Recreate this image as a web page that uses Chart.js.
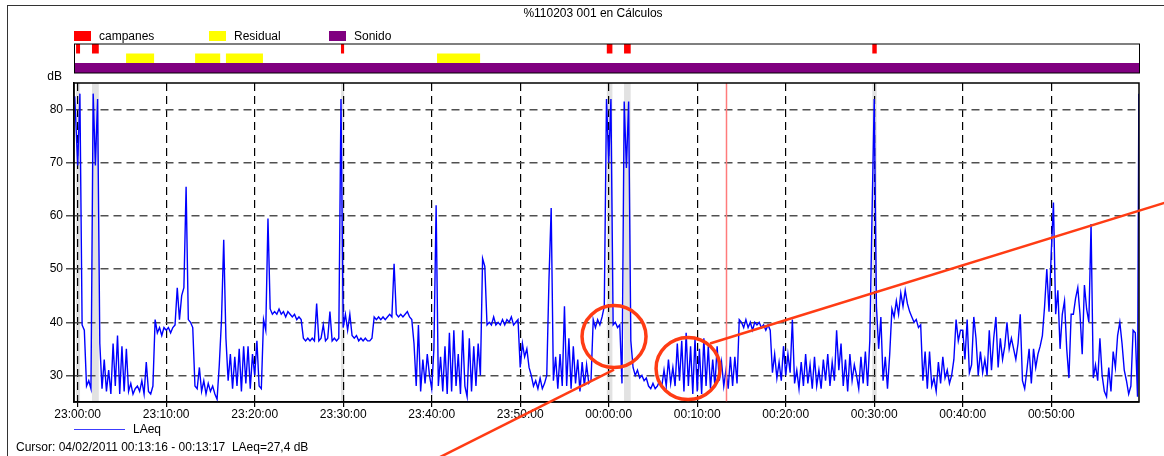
<!DOCTYPE html>
<html>
<head>
<meta charset="utf-8">
<script src="https://cdn.jsdelivr.net/npm/chart.js@4/dist/chart.umd.min.js"></script>
<style>
  html, body { margin: 0; padding: 0; background: #fff; }
  #wrap { width: 1164px; height: 456px; }
</style>
</head>
<body>
<div id="wrap"><canvas id="chart" width="1164" height="456"></canvas></div>
<script>
// datos: LAeq cada 15 s, un bloque por cada 10 minutos (23:00:00 = 0 s)
const stepSec = 15;
const laeq2300 = [69.5, 83, 39.5, 38.5, 28, 29, 27.5, 83, 69.5, 82, 36, 27.5, 33, 27, 31, 26.5, 36, 28, 37.5, 26.5, 35.5, 27, 35, 27, 28.5, 26.5, 27.5, 28, 27, 29, 26.5, 32.5, 27, 26.5, 28, 40.5, 38, 39, 37.5, 39];
const laeq2310 = [38.5, 39, 38, 39, 39.5, 46.5, 40.5, 45, 46.5, 65.5, 40.5, 40, 39, 28, 27.5, 31.5, 27, 29, 26.5, 28.5, 27, 28, 26.5, 25.5, 32, 40.5, 55.5, 37, 29, 34, 27.5, 33.5, 28, 35, 27, 35.5, 28.5, 35.5, 27.5, 34];
const laeq2320 = [30, 36.5, 28, 27.5, 40.5, 38.5, 59.5, 42.5, 41.5, 42, 41.5, 42.5, 41.5, 42, 41, 42, 41.5, 41, 41.5, 40.5, 41, 40.5, 37, 36.5, 37, 36.5, 37, 36.5, 43.5, 36.5, 37, 39.5, 36.5, 37, 42, 36.5, 37, 36.5, 37, 82];
const laeq2330 = [39, 41.5, 38.5, 41.5, 37.5, 37, 37.5, 36.5, 37, 36.5, 37, 36.5, 36.5, 37, 41, 40.5, 41, 40.5, 41, 40.5, 41, 41.5, 41, 51, 41.5, 41, 41.5, 41, 41.5, 42, 41, 40.5, 36, 28, 39.5, 27, 33, 28.5, 34, 30];
const laeq2340 = [27.5, 35, 62, 28, 33.5, 27, 35.5, 26.5, 38, 27, 38.5, 28, 34, 26.5, 38.5, 28, 26, 37, 27, 35.5, 28, 36, 30, 52, 50.5, 39.5, 40, 39.5, 41, 39.5, 40, 39.5, 40.5, 39.5, 40.5, 40, 41, 39.5, 40, 40.5];
const laeq2350 = [31.5, 36, 33.5, 35, 31.5, 30, 28, 29, 27.5, 29.5, 27.5, 28.5, 30, 48, 61.5, 29, 33.5, 27.5, 34, 28, 43, 28, 37, 27.5, 35.5, 28.5, 33, 27, 32.5, 28, 32, 28.5, 29, 40.5, 39, 40.5, 39.5, 41, 43, 82];
const laeq0000 = [70, 82, 39.5, 40, 39, 39.5, 28.5, 81.5, 69, 81.5, 36.5, 31.5, 30, 31, 29.5, 30, 29, 29.5, 28, 27.5, 28.5, 27.5, 28, 29, 28, 31, 28, 33, 28.5, 31.5, 28, 36, 29, 36.5, 27, 38, 28, 35.5, 26.5, 37];
const laeq0010 = [27, 35, 26.5, 37, 28, 35.5, 27.5, 33, 28, 35.5, 29, 32.5, 28, 31, 27.5, 33.5, 28, 33.5, 28.5, 40.5, 40, 39, 40.5, 39, 40, 38.5, 40, 39.5, 40, 39, 39.5, 38.5, 39.5, 38.5, 30.5, 34, 29.5, 32.5, 29, 35.5];
const laeq0020 = [30, 34, 30.5, 40.5, 28.5, 31, 27.5, 32.5, 28, 34, 28.5, 32, 27.5, 33.5, 28, 31, 27.5, 33, 29, 34, 28, 32.5, 29, 38.5, 31, 36, 28, 33, 27, 34, 29, 32, 30, 27.5, 33.5, 28.5, 34.5, 28, 36.5, 60];
const laeq0030 = [82, 43, 35, 41, 29, 33.5, 27.5, 34, 42.5, 41, 44, 41.5, 45.5, 43, 46, 43.5, 42, 41, 40, 40.5, 39, 39.5, 29, 34.5, 27.5, 34.5, 28, 29.5, 27, 32.5, 28.5, 33.5, 29.5, 31, 28.5, 30, 33, 40.5, 36.5, 38.5];
const laeq0040 = [38.5, 33, 40.5, 30.5, 32, 41, 37, 30, 34.5, 30.5, 33, 30, 38.5, 31, 37, 41, 31.5, 37, 33, 35.5, 40, 35, 37, 35, 33, 36, 41.5, 29, 27.5, 31, 35, 28.5, 35, 31.5, 34, 35.5, 37.5, 43, 50, 42];
const laeq0050 = [53, 62.5, 41.5, 46, 35, 41.5, 44, 35, 29.5, 41.5, 41.5, 44.5, 46.5, 41.5, 34, 47, 42.5, 40, 58.5, 29.5, 32, 29, 37, 30, 27, 26, 31.5, 27, 34.5, 31.5, 37.5, 40, 36, 31, 29, 26.5, 28, 38.5, 38, 26];
const laeqBlocks = [laeq2300, laeq2310, laeq2320, laeq2330, laeq2340, laeq2350, laeq0000, laeq0010, laeq0020, laeq0030, laeq0040, laeq0050];
// puntos sueltos al principio y al final del registro
const edgeTimes = [-20, 7194];
const edgeValues = [82.5, 83];

// ejes
const xMin = -25, xMax = 7195;
const xTickSeconds = [0, 600, 1200, 1800, 2400, 3000, 3600, 4200, 4800, 5400, 6000, 6600];
const xTickLabels = ['23:00:00', '23:10:00', '23:20:00', '23:30:00', '23:40:00', '23:50:00',
                     '00:00:00', '00:10:00', '00:20:00', '00:30:00', '00:40:00', '00:50:00'];
const yTicks = [30, 40, 50, 60, 70, 80];

// eventos [inicio, fin] en segundos
const campanes = [[-11, 16], [97, 143], [1785, 1806], [3587, 3625], [3704, 3749], [5387, 5417]];
const residual = [[328, 518], [796, 966], [1005, 1256], [2436, 2728]];
const sonido = [[-25, 7195]];

// cursor
const cursorTime = 4397;
const cursorText = 'Cursor: 04/02/2011 00:13:16 - 00:13:17  LAeq=27,4 dB';

// marcas a mano (círculos y rayas naranjas), en tiempo / dB
const ringTimes = [3636, 4138];
const ringLevels = [37.3, 31.3];
const strokeA = [[2389, 13.7], [3636, 31.1]];
const strokeB = [[4287, 36.0], [7500, 63.6]];

const points = [];
points.push({ x: edgeTimes[0], y: edgeValues[0] });
laeqBlocks.forEach((blk, b) => blk.forEach((v, i) => points.push({ x: b * 600 + i * stepSec, y: v })));
points.push({ x: edgeTimes[1], y: edgeValues[1] });

const FONT = '12px "Liberation Sans", Arial, sans-serif';

const extras = {
    id: 'extras',
    beforeDraw(chart) {
        const { ctx, chartArea: a } = chart;
        const xs = chart.scales.x;
        ctx.save();
        ctx.fillStyle = '#fff';
        ctx.fillRect(0, 0, chart.width, chart.height);
        // bandas grises de campanes
        ctx.fillStyle = '#e2e2e2';
        campanes.forEach(([t0, t1]) => {
            const x0 = Math.max(a.left, xs.getPixelForValue(t0));
            const x1 = Math.min(a.right, xs.getPixelForValue(t1));
            ctx.fillRect(x0, a.top, Math.max(2, x1 - x0), a.bottom - a.top);
        });
        ctx.restore();
    },
    afterDatasetsDraw(chart) {
        const { ctx, chartArea: a } = chart;
        const xs = chart.scales.x;
        ctx.save();
        // cursor
        const cx = Math.round(xs.getPixelForValue(cursorTime)) + 0.5;
        ctx.strokeStyle = '#ff7b7b';
        ctx.lineWidth = 1.5;
        ctx.beginPath();
        ctx.moveTo(cx, a.top);
        ctx.lineTo(cx, a.bottom);
        ctx.stroke();
        // marco del gráfico
        ctx.strokeStyle = '#000';
        ctx.lineWidth = 1.5;
        ctx.strokeRect(a.left, a.top, a.right - a.left, a.bottom - a.top);
        ctx.restore();
    },
    afterDraw(chart) {
        const { ctx, chartArea: a } = chart;
        const xs = chart.scales.x, ys = chart.scales.y;
        ctx.save();

        // marco exterior
        ctx.strokeStyle = '#333';
        ctx.lineWidth = 1;
        ctx.strokeRect(7.5, 5.5, chart.width + 20, chart.height + 20);

        ctx.font = FONT;
        ctx.fillStyle = '#000';
        ctx.textBaseline = 'middle';

        // título
        ctx.textAlign = 'center';
        ctx.fillText('%110203 001 en Cálculos', 593, 14);

        // leyenda de eventos
        ctx.textAlign = 'left';
        const legend = [['campanes', '#ff0000', 74], ['Residual', '#ffff00', 209], ['Sonido', '#800080', 329]];
        legend.forEach(([name, col, lx]) => {
            ctx.fillStyle = col;
            ctx.fillRect(lx, 31, 17, 10);
            ctx.fillStyle = '#000';
            ctx.fillText(name, lx + 25, 36.5);
        });

        // barra de eventos
        const rows = [[campanes, '#ff0000', 44, 9.5], [residual, '#ffff00', 53.5, 9.5], [sonido, '#800080', 63, 10]];
        rows.forEach(([evs, col, y, h]) => {
            ctx.fillStyle = col;
            evs.forEach(([t0, t1]) => {
                const x0 = Math.max(a.left, xs.getPixelForValue(t0));
                const x1 = Math.min(a.right, xs.getPixelForValue(t1));
                ctx.fillRect(x0, y, Math.max(3, x1 - x0), h);
            });
        });
        ctx.strokeStyle = '#000';
        ctx.lineWidth = 1;
        ctx.strokeRect(a.left + 0.5, 44, a.right - a.left, 29);

        // unidad
        ctx.fillStyle = '#000';
        ctx.textAlign = 'right';
        ctx.fillText('dB', 62, 76.5);

        // leyenda LAeq
        ctx.strokeStyle = '#3c3cff';
        ctx.lineWidth = 1.2;
        ctx.beginPath();
        ctx.moveTo(74, 429.5);
        ctx.lineTo(125, 429.5);
        ctx.stroke();
        ctx.textAlign = 'left';
        ctx.fillText('LAeq', 133, 430);
        ctx.fillText(cursorText, 16, 448);

        // marcas naranjas
        ctx.strokeStyle = '#ff3c14';
        ctx.lineWidth = 3.5;
        ringTimes.forEach((t, i) => {
            ctx.beginPath();
            ctx.ellipse(xs.getPixelForValue(t), ys.getPixelForValue(ringLevels[i]), 32, 31, 0, 0, Math.PI * 2);
            ctx.stroke();
        });
        ctx.lineWidth = 2.5;
        [strokeA, strokeB].forEach(seg => {
            ctx.beginPath();
            ctx.moveTo(xs.getPixelForValue(seg[0][0]), ys.getPixelForValue(seg[0][1]));
            ctx.lineTo(xs.getPixelForValue(seg[1][0]), ys.getPixelForValue(seg[1][1]));
            ctx.stroke();
        });
        ctx.restore();
    }
};

const ctx = document.getElementById('chart').getContext('2d');
new Chart(ctx, {
    type: 'line',
    data: {
        datasets: [{
            label: 'LAeq',
            data: points,
            borderColor: '#0000ff',
            borderWidth: 1.4,
            pointRadius: 0,
            tension: 0,
            fill: false
        }]
    },
    options: {
        responsive: false,
        devicePixelRatio: 1,
        animation: false,
        events: [],
        layout: { padding: { left: 0, right: 25, top: 83, bottom: 0 } },
        plugins: { legend: { display: false }, title: { display: false }, tooltip: { enabled: false } },
        scales: {
            x: {
                type: 'linear',
                min: xMin,
                max: xMax,
                afterFit: s => { s.height = 54; },
                afterBuildTicks: s => { s.ticks = xTickSeconds.map(v => ({ value: v })); },
                ticks: {
                    autoSkip: false,
                    maxRotation: 0,
                    padding: 0,
                    color: '#000',
                    font: { family: '"Liberation Sans", Arial, sans-serif', size: 12 },
                    callback: (v, i) => xTickLabels[i]
                },
                grid: { color: '#000', lineWidth: 1.2, tickLength: 5, tickColor: '#000' },
                border: { display: true, color: '#000', width: 1.5, dash: [8, 5] }
            },
            y: {
                min: 25,
                max: 85,
                afterFit: s => { s.width = 74; },
                afterBuildTicks: s => { s.ticks = yTicks.map(v => ({ value: v })); },
                ticks: {
                    padding: 3,
                    color: '#000',
                    font: { family: '"Liberation Sans", Arial, sans-serif', size: 12 }
                },
                grid: { color: '#505050', lineWidth: 1.5, tickLength: 8, tickColor: '#505050' },
                border: { display: true, color: '#000', width: 1.5, dash: [8, 5] }
            }
        }
    },
    plugins: [extras]
});
</script>
</body>
</html>
